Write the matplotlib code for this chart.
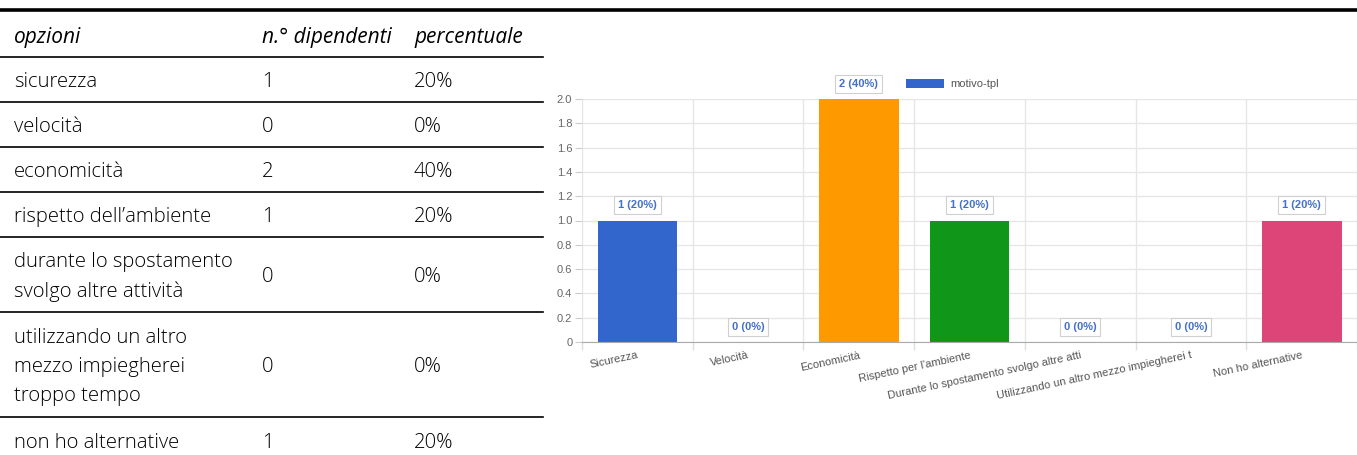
#!/usr/bin/env python3
# -*- coding: utf-8 -*-

"""
Tabella dei motivi per l'uso del TPL + grafico a barre (stile Google Charts).
"""

import matplotlib
matplotlib.use("Agg")
import matplotlib.pyplot as plt
from matplotlib.lines import Line2D
from matplotlib.patches import Patch

# --- dati ---
opzioni = [
    "sicurezza",
    "velocità",
    "economicità",
    "rispetto dell\u2019ambiente",
    "durante lo spostamento\nsvolgo altre attività",
    "utilizzando un altro\nmezzo impiegherei\ntroppo tempo",
    "non ho alternative",
]
dipendenti = [1, 0, 2, 1, 0, 0, 1]
percentuali = [20, 0, 40, 20, 0, 0, 20]
intestazioni = ["opzioni", "n.° dipendenti", "percentuale"]

etichette_grafico = [
    "Sicurezza",
    "Velocità",
    "Economicità",
    "Rispetto per l'ambiente",
    "Durante lo spostamento svolgo altre atti",
    "Utilizzando un altro mezzo impiegherei t",
    "Non ho alternative",
]
colori = ["#3366cc", "#dc3912", "#ff9900", "#109618", "#990099", "#0099c6", "#dd4477"]
serie = "motivo-tpl"

W, H = 1357, 455


def fy(py):
    return 1 - py / H


def fx(px):
    return px / W


def disegna_tabella(fig):
    font_tab = "Open Sans"
    col_x = [14, 262, 414]
    # linea spessa in alto
    fig.add_artist(Line2D([0, 1], [fy(10), fy(10)], color="black", lw=2.6))
    for testo, x in zip(intestazioni, col_x):
        fig.text(fx(x), fy(38), testo, style="italic", fontsize=15,
                 family=font_tab, va="center", ha="left", color="#000000")
    righe_linee = [57, 102, 147, 192, 237, 312, 417]
    for py in righe_linee:
        fig.add_artist(Line2D([0, fx(543)], [fy(py), fy(py)], color="black", lw=1.2))
    centri = [82, 127, 172, 217, 277, 367, 443]
    for op, n, p, cy in zip(opzioni, dipendenti, percentuali, centri):
        kw = dict(fontsize=14.6, family=font_tab, fontweight=300, va="center",
                  ha="left", color="#000000", linespacing=1.62)
        fig.text(fx(col_x[0]), fy(cy), op, **kw)
        fig.text(fx(col_x[1]), fy(cy), str(n), **kw)
        fig.text(fx(col_x[2]), fy(cy), f"{p}%", **kw)


def disegna_grafico(fig):
    ax = fig.add_axes([fx(582), fy(342), 1 - fx(582), fy(99) - fy(342)])
    x = list(range(len(dipendenti)))
    ax.bar(x, dipendenti, width=0.72, color=colori, edgecolor="none", zorder=3)
    ax.set_xlim(-0.5, len(x) - 0.5)
    ax.set_ylim(0, 2)

    yt = [i * 0.2 for i in range(11)]
    ax.set_yticks(yt)
    ax.set_yticklabels(["0" if v == 0 else f"{v:.1f}" for v in yt])
    ax.tick_params(axis="y", length=5, color="#cccccc", labelcolor="#666666",
                   labelsize=8, pad=2)
    ax.grid(axis="y", color="#e6e6e6", lw=1, zorder=0)

    ax.set_xticks(x)
    ax.set_xticklabels(etichette_grafico, rotation=12, ha="right", va="top",
                       rotation_mode="anchor", fontsize=8, color="#555555")
    ax.tick_params(axis="x", length=0, pad=6)
    ax.set_xticks([i - 0.5 for i in range(len(x) + 1)], minor=True)
    ax.tick_params(axis="x", which="minor", length=6, color="#dddddd", width=1)
    ax.grid(axis="x", which="minor", color="#e6e6e6", lw=1, zorder=0)

    for s in ["top", "right", "left"]:
        ax.spines[s].set_visible(False)
    ax.spines["bottom"].set_color("#aaaaaa")
    ax.spines["bottom"].set_zorder(4)

    for xi, n, p in zip(x, dipendenti, percentuali):
        ax.annotate(f"{n} ({p}%)", (xi, n), xytext=(0, 11), textcoords="offset points",
                    ha="center", va="center", fontsize=8, fontweight="bold",
                    color="#4470c8", annotation_clip=False, zorder=5,
                    bbox=dict(boxstyle="square,pad=0.35", fc="white", ec="#d0d0d0", lw=0.8))

    handle = Patch(facecolor=colori[0], edgecolor="none")
    fig.legend([handle], [serie], loc="center left",
               bbox_to_anchor=(fx(906), fy(84)), frameon=False, fontsize=8,
               handlelength=3.4, handleheight=0.9, handletextpad=0.6,
               borderpad=0, borderaxespad=0, labelcolor="#555555")
    return ax


def main():
    plt.rcParams["font.family"] = ["Liberation Sans", "DejaVu Sans"]
    fig = plt.figure(figsize=(W / 100, H / 100), dpi=100)
    disegna_tabella(fig)
    disegna_grafico(fig)
    fig.savefig("out.png", dpi=100)
    plt.close(fig)


if __name__ == "__main__":
    main()
